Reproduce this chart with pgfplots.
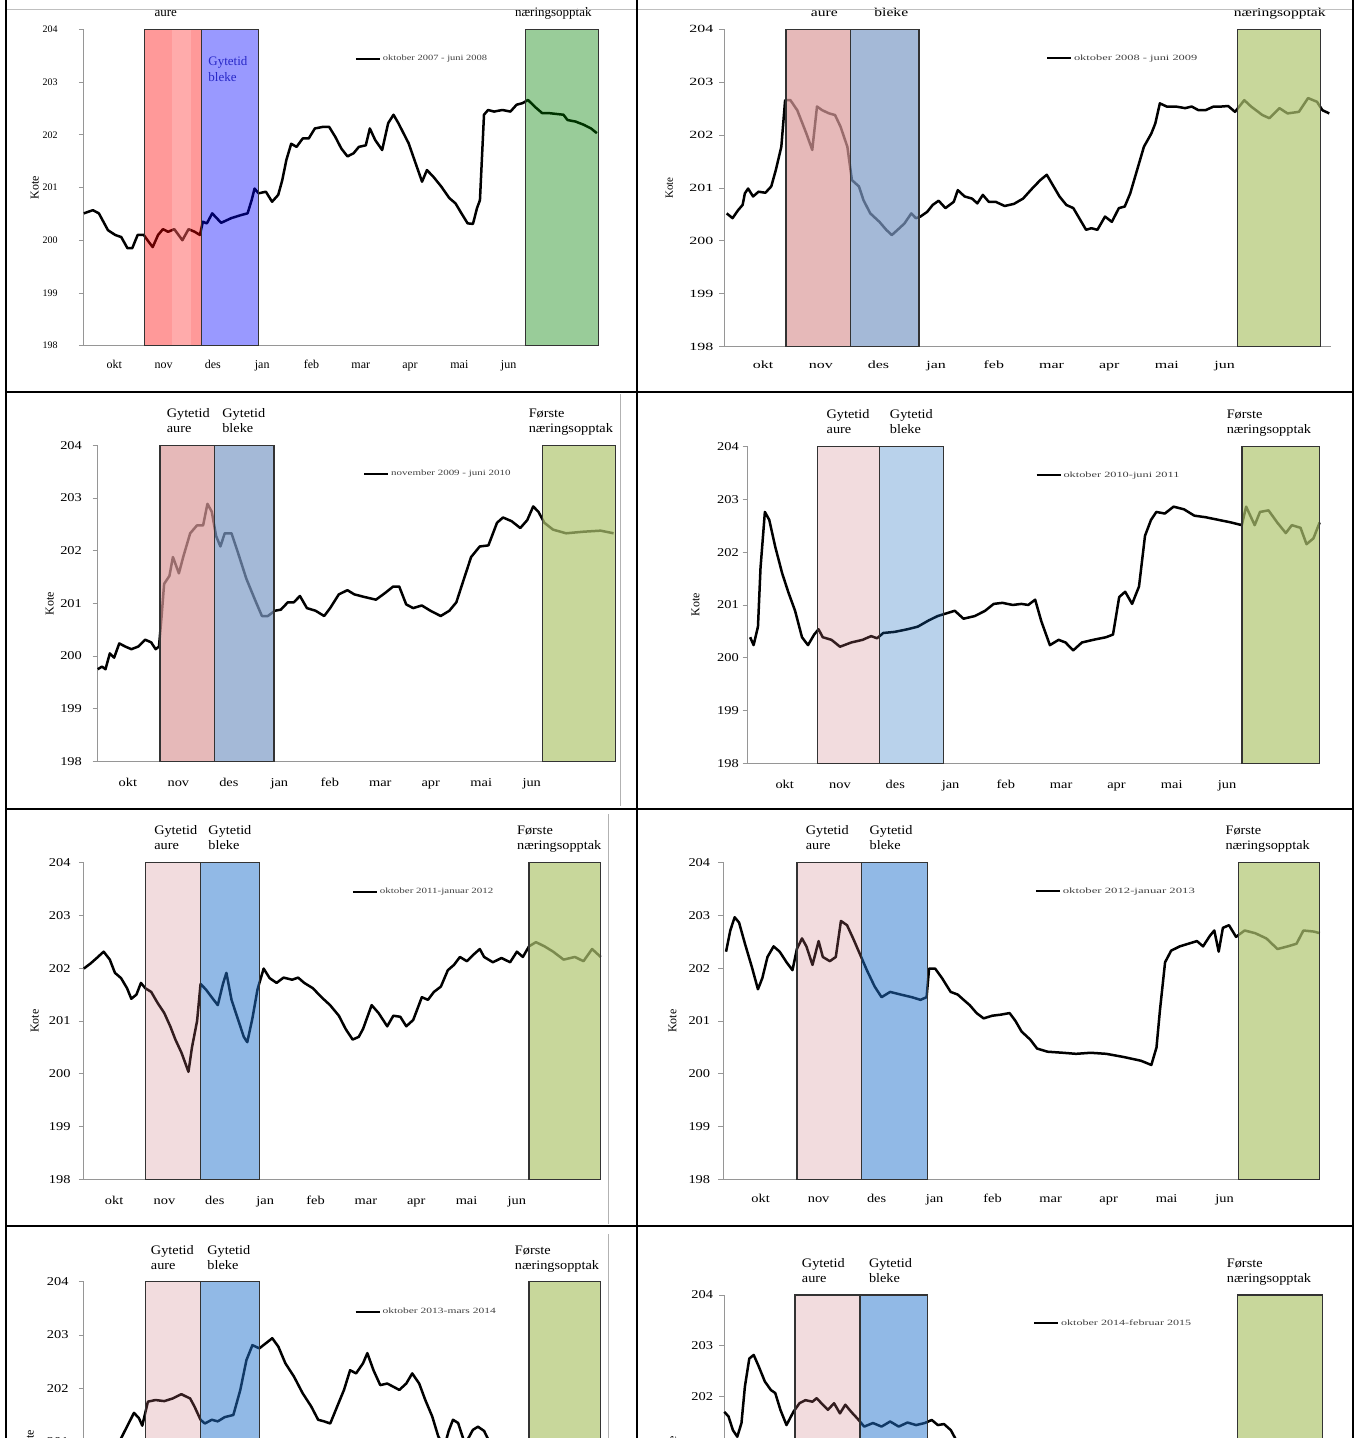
\documentclass[border=0pt]{standalone}
\usepackage{fontspec}
\setmainfont{Liberation Serif}
\usepackage{graphicx}
\usepackage{pgfplots}
\pgfplotsset{compat=1.18}

\definecolor{frame}{RGB}{150,150,150}
\definecolor{bleketxt}{RGB}{40,40,200}
\definecolor{gOne}{RGB}{0,128,0}
\definecolor{pinkA}{RGB}{219,155,155}
\definecolor{blueA}{RGB}{126,155,198}
\definecolor{greenA}{RGB}{176,198,112}
\definecolor{pinkL}{RGB}{204,116,124}
\definecolor{blueL}{RGB}{22,105,188}
\definecolor{blueM}{RGB}{35,115,205}

\pgfplotsset{
  panel/.style={
    scale only axis, anchor=south west, clip=false,
    ymin=198, ymax=204, ytick={198,199,200,201,202,203,204},
    axis x line*=bottom, axis y line*=left,
    axis line style={draw=frame, line width=0.9pt, -},
    xtick={15,45.4,75.8,106.2,136.6,167,197.4,227.8,258.2},
    xticklabels={okt,nov,des,jan,feb,mar,apr,mai,jun},
    xtick style={draw=none},
    ytick style={draw=frame, line width=0.9pt},
    tick align=outside, major tick length=5pt,
    /pgf/number format/assume math mode=true,
    ylabel={Kote},
    legend cell align=left,
    legend image code/.code={\draw[black, line width=2pt] (0pt,0pt) -- (24pt,0pt);},
  },
  tfont/.style n args={6}{
    yticklabel style={font=\fontsize{#1}{#1}\selectfont, xscale=#2, anchor=east, inner sep=0pt, xshift=-#3pt},
    xticklabel style={font=\fontsize{#6}{#6}\selectfont, xscale=#2, anchor=base, inner sep=0pt, yshift=-#5pt},
    every axis y label/.style={at={(axis description cs:0,0.5)}, rotate=90, anchor=center, font=\fontsize{#6}{#6}\selectfont, yshift=#4pt},
  },
  leg/.style 2 args={legend style={at={(axis cs:#1,#2)}, anchor=west, draw=none, fill=none, inner sep=0pt, font=\fontsize{8}{9}\selectfont, text=black!75}},
  dline/.style={black, line width=2.5pt, line join=round},
}
\tikzset{tl/.style 2 args={font=\fontsize{#1}{15}\selectfont, xscale=#2, align=left, anchor=south west, inner sep=0pt, yshift=8pt}}

\newcommand{\band}[4]{\addplot[forget plot, fill=#3, fill opacity=#4, draw=black!80, line width=1.3pt] coordinates {(#1,198) (#1,204) (#2,204) (#2,198)} -- cycle;}

\begin{document}
\begin{tikzpicture}
\useasboundingbox (0pt,0pt) rectangle (1355pt,-1438pt);
\clip (0pt,0pt) rectangle (1355pt,-1438pt);

% ---------- Panel 1 ----------
\begin{axis}[panel, tfont={10}{1.0}{21}{49}{17.3}{12},
  at={(83.8pt,-345.7pt)}, width=515pt, height=316.4pt,
  xmin=-3.8, xmax=313.8, leg={163.3}{203.44}]
\addplot[dline] coordinates {(-3.8,200.51) (1.8,200.57) (5.5,200.51) (11.1,200.19) (15.6,200.10) (19.3,200.06) (23.1,199.85) (26.1,199.85) (29.4,200.10) (33.2,200.10) (36.2,199.97) (38.7,199.87) (42.0,200.10) (45.0,200.21) (48.2,200.16) (52.0,200.21) (57.0,200.00) (60.8,200.21) (64.6,200.16) (67.8,200.10) (69.6,200.35) (72.1,200.32) (75.4,200.51) (80.9,200.33) (87.2,200.42) (93.5,200.48) (97.2,200.51) (99.7,200.76) (101.5,200.98) (104.0,200.89) (108.5,200.92) (112.3,200.73) (116.1,200.86) (118.6,201.14) (121.1,201.52) (124.1,201.83) (127.4,201.77) (131.2,201.93) (134.9,201.93) (138.7,202.12) (143.7,202.15) (147.5,202.15) (151.3,201.96) (155.0,201.74) (158.8,201.59) (162.6,201.65) (165.8,201.77) (170.1,201.80) (172.6,202.12) (175.9,201.90) (180.2,201.71) (183.9,202.22) (187.2,202.38) (190.2,202.22) (196.5,201.84) (201.5,201.40) (204.8,201.11) (207.8,201.33) (211.6,201.21) (216.6,201.02) (221.6,200.80) (225.4,200.70) (229.1,200.51) (232.9,200.32) (236.2,200.31) (238.7,200.61) (240.5,200.76) (243.0,202.38) (245.5,202.47) (249.2,202.44) (254.3,202.47) (259.3,202.44) (263.1,202.57) (266.8,202.60) (270.1,202.66) (274.4,202.53) (278.9,202.41) (283.2,202.41) (292.0,202.38) (294.5,202.28) (299.5,202.25) (304.5,202.19) (309.0,202.12) (312.6,202.03)};
\addlegendentry{\scalebox{1.31}[1]{oktober 2007 - juni 2008}}
\band{33.6}{68.6}{red}{0.4}
\addplot[forget plot, fill=white, fill opacity=0.18, draw=none] coordinates {(50.5,198.02) (50.5,203.98) (62.2,203.98) (62.2,198.02)} -- cycle;
\band{68.6}{104.0}{blue}{0.4}
\band{268.8}{313.8}{gOne}{0.4}
\node[tl={13}{1}, xshift=10pt] at (axis cs:33.6,204) {aure\strut};
\node[tl={13}{1}, xshift=-11pt] at (axis cs:268.8,204) {næringsopptak\strut};
\node[font=\fontsize{13}{16}\selectfont, text=bleketxt, align=left, anchor=north west, inner sep=0pt, xshift=7pt, yshift=-25pt] at (axis cs:68.6,204) {\strut Gytetid\\bleke};
\end{axis}

% ---------- Panel 2 ----------
\begin{axis}[panel, tfont={11}{1.45}{4}{55}{16.3}{11},
  at={(724.4pt,-346.7pt)}, width=606.4pt, height=317.4pt,
  xmin=-5.4, xmax=314.2, leg={164.0}{203.45}]
\addplot[dline] coordinates {(-4.2,200.52) (-1.1,200.43) (1.8,200.58) (4.2,200.68) (5.4,200.90) (7.1,200.99) (9.7,200.84) (12.6,200.93) (16.2,200.91) (19.3,201.03) (21.7,201.34) (24.6,201.78) (26.6,202.66) (29.4,202.66) (33.0,202.47) (37.8,202.03) (40.9,201.72) (43.4,202.54) (46.2,202.47) (49.8,202.41) (52.9,202.38) (55.8,202.16) (59.4,201.78) (61.8,201.15) (65.5,201.03) (67.9,200.77) (71.5,200.52) (76.3,200.36) (79.9,200.21) (82.8,200.11) (85.9,200.21) (89.5,200.33) (93.1,200.52) (95.5,200.43) (97.9,200.46) (101.5,200.55) (104.4,200.68) (107.5,200.76) (111.1,200.62) (115.5,200.74) (117.6,200.96) (121.2,200.84) (125.1,200.80) (127.9,200.71) (130.8,200.87) (133.9,200.74) (137.5,200.74) (142.3,200.66) (147.2,200.70) (152.0,200.80) (156.8,200.99) (161.1,201.15) (164.5,201.25) (167.6,201.06) (171.2,200.84) (174.8,200.68) (178.5,200.62) (182.1,200.40) (185.2,200.21) (188.0,200.24) (191.2,200.21) (195.2,200.46) (198.8,200.36) (202.5,200.62) (205.6,200.65) (208.5,200.90) (212.1,201.34) (215.7,201.78) (219.6,202.03) (221.7,202.22) (224.1,202.60) (227.7,202.54) (232.5,202.54) (237.4,202.51) (240.9,202.54) (244.5,202.47) (248.1,202.47) (252.4,202.54) (256.5,202.54) (260.1,202.55) (263.7,202.44) (268.6,202.66) (272.2,202.54) (278.1,202.38) (281.8,202.32) (287.1,202.51) (291.4,202.41) (297.4,202.44) (302.2,202.70) (306.9,202.63) (309.8,202.47) (313.4,202.41)};
\addlegendentry{\scalebox{1.55}[1]{oktober 2008 - juni 2009}}
\band{27.0}{61.2}{pinkA}{0.7}
\band{61.2}{97.2}{blueA}{0.7}
\band{265.0}{308.7}{greenA}{0.7}
\node[tl={12}{1.3}, xshift=19pt] at (axis cs:27.0,204) {aure\strut};
\node[tl={12}{1.3}, xshift=18pt] at (axis cs:61.2,204) {bleke\strut};
\node[tl={12}{1.3}, xshift=-3pt] at (axis cs:265.0,204) {næringsopptak\strut};
\end{axis}

% ---------- Panel 3 ----------
\begin{axis}[panel, tfont={12}{1.2}{8.8}{48}{20.5}{12},
  at={(97.7pt,-761.4pt)}, width=517.7pt, height=316.1pt,
  xmin=-3.2, xmax=308.6, leg={156.6}{203.46}]
\addplot[dline] coordinates {(-3.2,199.75) (-0.6,199.80) (1.5,199.75) (4.1,200.05) (6.7,199.97) (9.8,200.24) (13.4,200.18) (17.1,200.13) (21.2,200.18) (25.4,200.31) (29.0,200.26) (31.7,200.13) (33.7,200.18) (35.3,200.76) (36.8,201.37) (40.0,201.52) (42.1,201.88) (45.7,201.57) (48.3,201.88) (52.5,202.33) (56.6,202.48) (60.3,202.48) (62.9,202.89) (65.5,202.74) (68.1,202.28) (70.7,202.08) (73.3,202.33) (77.4,202.33) (81.1,201.98) (86.3,201.47) (91.5,201.07) (95.7,200.76) (99.3,200.76) (103.5,200.86) (107.1,200.88) (111.3,201.02) (114.9,201.02) (118.6,201.14) (122.8,200.91) (128.0,200.86) (133.2,200.76) (136.8,200.91) (142.0,201.17) (147.2,201.25) (151.4,201.17) (157.6,201.12) (164.4,201.07) (169.6,201.19) (174.8,201.32) (178.4,201.32) (182.6,200.98) (186.8,200.91) (192.0,200.96) (197.2,200.86) (203.4,200.76) (208.6,200.86) (212.8,201.02) (216.4,201.37) (221.7,201.88) (226.9,202.08) (232.1,202.10) (237.3,202.53) (240.9,202.63) (246.1,202.56) (251.3,202.43) (255.5,202.58) (259.1,202.84) (262.2,202.74) (265.8,202.53) (271.0,202.40) (278.9,202.33) (289.3,202.36) (299.7,202.38) (307.5,202.33)};
\addlegendentry{\scalebox{1.37}[1]{november 2009 - juni 2010}}
\band{34.3}{67.1}{pinkA}{0.7}
\band{67.1}{103.0}{blueA}{0.7}
\band{264.9}{308.6}{greenA}{0.7}
\node[tl={13}{1.1}, xshift=6pt] at (axis cs:34.3,204) {Gytetid\\aure\strut};
\node[tl={13}{1.1}, xshift=7pt] at (axis cs:67.1,204) {Gytetid\\bleke\strut};
\node[tl={13}{1.1}, xshift=-13pt] at (axis cs:264.9,204) {Første\\næringsopptak\strut};
\end{axis}

% ---------- Panel 4 ----------
\begin{axis}[panel, tfont={12}{1.2}{3}{52}{20}{12},
  at={(747.6pt,-763.5pt)}, width=572.2pt, height=317.1pt,
  xmin=-5.4, xmax=309.2, leg={152.8}{203.45}]
\addplot[dline] coordinates {(-4.0,200.39) (-2.1,200.24) (0.3,200.59) (1.7,201.70) (4.1,202.76) (6.5,202.61) (9.8,202.10) (13.6,201.60) (16.9,201.25) (20.7,200.89) (24.5,200.39) (27.8,200.24) (31.2,200.44) (33.6,200.54) (35.9,200.39) (40.7,200.34) (45.4,200.21) (51.6,200.29) (57.8,200.34) (62.5,200.41) (65.8,200.37) (69.2,200.47) (75.3,200.49) (82.5,200.54) (88.2,200.59) (94.3,200.71) (99.1,200.79) (103.8,200.84) (108.5,200.89) (113.3,200.74) (119.5,200.79) (125.2,200.89) (129.9,201.02) (134.7,201.04) (140.4,201.00) (145.1,201.02) (148.9,201.00) (152.7,201.10) (156.1,200.69) (160.8,200.24) (165.6,200.34) (169.4,200.29) (173.6,200.14) (178.4,200.29) (184.6,200.34) (191.7,200.39) (195.5,200.44) (198.9,201.15) (202.2,201.25) (206.0,201.02) (209.8,201.35) (213.1,202.31) (216.4,202.61) (219.3,202.76) (224.0,202.73) (228.8,202.86) (234.5,202.81) (240.2,202.69) (246.4,202.66) (253.5,202.61) (260.6,202.56) (266.3,202.51) (268.7,202.86) (273.4,202.51) (276.3,202.76) (281.0,202.79) (285.8,202.56) (290.5,202.36) (293.8,202.51) (298.6,202.46) (301.9,202.15) (305.7,202.26) (309.1,202.56)};
\addlegendentry{\scalebox{1.54}[1]{oktober 2010-juni 2011}}
\band{33.1}{67.3}{pinkL}{0.25}
\band{67.3}{102.4}{blueL}{0.3}
\band{266.4}{309.2}{greenA}{0.7}
\node[tl={13}{1.1}, xshift=8pt] at (axis cs:33.1,204) {Gytetid\\aure\strut};
\node[tl={13}{1.1}, xshift=9pt] at (axis cs:67.3,204) {Gytetid\\bleke\strut};
\node[tl={13}{1.1}, xshift=-14pt] at (axis cs:266.4,204) {Første\\næringsopptak\strut};
\end{axis}

% ---------- Panel 5 ----------
\begin{axis}[panel, tfont={12}{1.2}{6.7}{49}{19.5}{12},
  at={(83.8pt,-1179.8pt)}, width=516.9pt, height=317.6pt,
  xmin=-3.3, xmax=308.8, leg={158.5}{203.44}]
\addplot[dline] coordinates {(-3.3,201.99) (0.9,202.09) (4.5,202.19) (8.7,202.31) (12.4,202.16) (15.5,201.91) (19.2,201.81) (22.8,201.62) (25.4,201.42) (28.5,201.50) (31.2,201.72) (33.8,201.62) (37.4,201.55) (41.1,201.35) (45.3,201.15) (48.9,200.90) (52.0,200.65) (55.7,200.40) (59.9,200.04) (62.0,200.50) (65.1,201.00) (67.2,201.70) (70.3,201.60) (73.9,201.45) (77.6,201.30) (80.7,201.70) (82.8,201.91) (85.9,201.40) (89.6,201.05) (93.3,200.70) (95.4,200.60) (98.5,201.05) (101.6,201.60) (105.3,201.99) (108.9,201.81) (113.1,201.72) (117.3,201.82) (122.5,201.78) (126.1,201.82) (129.8,201.72) (135.0,201.62) (140.2,201.45) (145.4,201.30) (150.7,201.10) (154.8,200.85) (159.0,200.65) (162.7,200.70) (165.3,200.85) (170.5,201.30) (174.7,201.15) (179.9,200.90) (183.6,201.10) (187.8,201.08) (191.4,200.90) (195.6,201.02) (200.8,201.45) (204.5,201.40) (208.1,201.55) (212.3,201.65) (216.5,201.96) (220.2,202.06) (223.8,202.21) (228.0,202.13) (232.2,202.26) (235.8,202.36) (238.4,202.21) (243.7,202.11) (248.9,202.19) (254.1,202.11) (258.2,202.31) (261.8,202.21) (265.5,202.41) (269.7,202.49) (274.9,202.41) (280.1,202.31) (286.4,202.16) (293.2,202.21) (298.4,202.13) (303.6,202.36) (308.8,202.21)};
\addlegendentry{\scalebox{1.37}[1]{oktober 2011-januar 2012}}
\band{33.8}{67.2}{pinkL}{0.25}
\band{67.2}{102.7}{blueM}{0.5}
\band{265.5}{308.8}{greenA}{0.7}
\node[tl={13}{1.1}, xshift=8pt] at (axis cs:33.8,204) {Gytetid\\aure\strut};
\node[tl={13}{1.1}, xshift=7pt] at (axis cs:67.2,204) {Gytetid\\bleke\strut};
\node[tl={13}{1.1}, xshift=-11pt] at (axis cs:265.5,204) {Første\\næringsopptak\strut};
\end{axis}

% ---------- Panel 6 ----------
\begin{axis}[panel, tfont={12}{1.2}{6.7}{51}{18}{12},
  at={(723.4pt,-1179.8pt)}, width=596.4pt, height=317.6pt,
  xmin=-4.5, xmax=308.1, leg={158.6}{203.45}]
\addplot[dline] coordinates {(-3.1,202.31) (-0.9,202.71) (1.4,202.96) (3.7,202.86) (6.8,202.46) (10.5,202.01) (13.6,201.60) (15.9,201.81) (18.6,202.21) (21.8,202.41) (25.0,202.31) (28.6,202.11) (31.7,201.96) (34.0,202.36) (36.7,202.56) (39.0,202.41) (42.2,202.06) (45.4,202.51) (47.6,202.21) (51.3,202.13) (54.4,202.21) (57.1,202.89) (60.3,202.81) (63.5,202.56) (67.1,202.26) (70.7,201.96) (74.8,201.65) (78.4,201.45) (82.9,201.55) (88.4,201.50) (94.3,201.45) (98.8,201.40) (102.0,201.45) (103.3,201.99) (106.5,201.99) (110.1,201.81) (114.6,201.55) (118.3,201.50) (121.4,201.40) (124.6,201.30) (128.2,201.15) (131.9,201.05) (136.4,201.10) (140.9,201.12) (145.5,201.15) (148.6,201.00) (151.8,200.80) (156.3,200.65) (159.9,200.48) (165.4,200.42) (173.5,200.40) (180.3,200.38) (188.0,200.40) (196.2,200.38) (205.3,200.32) (214.3,200.25) (219.8,200.17) (222.5,200.50) (224.3,201.20) (227.0,202.11) (230.2,202.33) (234.7,202.41) (239.2,202.46) (243.7,202.51) (246.9,202.41) (250.5,202.61) (252.8,202.71) (255.1,202.31) (257.3,202.76) (260.5,202.81) (264.2,202.59) (268.7,202.71) (274.2,202.66) (280.1,202.56) (285.9,202.36) (291.3,202.41) (295.9,202.46) (299.5,202.71) (304.9,202.69) (308.1,202.66)};
\addlegendentry{\scalebox{1.59}[1]{oktober 2012-januar 2013}}
\band{34.0}{68.0}{pinkL}{0.25}
\band{68.0}{102.4}{blueM}{0.5}
\band{265.5}{308.1}{greenA}{0.7}
\node[tl={13}{1.1}, xshift=8pt] at (axis cs:34.0,204) {Gytetid\\aure\strut};
\node[tl={13}{1.1}, xshift=7pt] at (axis cs:68.0,204) {Gytetid\\bleke\strut};
\node[tl={13}{1.1}, xshift=-12pt] at (axis cs:265.5,204) {Første\\næringsopptak\strut};
\end{axis}

% ---------- Panel 7 (cut off at the bottom) ----------
\begin{axis}[panel, tfont={12}{1.2}{8.3}{54}{19}{12},
  at={(83.8pt,-1601.5pt)}, width=516.9pt, height=319.8pt,
  xmin=-3.3, xmax=308.8, leg={160.1}{203.44},
  xticklabels={}, yticklabels={,,,201,202,203,204}]
\addplot[dline] coordinates {(-3.3,200.5) (8,200.7) (15,200.9) (19,201.05) (27,201.54) (30,201.44) (32,201.3) (35.4,201.75) (40.0,201.78) (45.3,201.76) (50.4,201.81) (55.6,201.89) (58.2,201.85) (60.9,201.81) (63.5,201.66) (67.2,201.41) (69.8,201.34) (74.0,201.41) (77.6,201.38) (81.8,201.46) (87.0,201.50) (91.2,201.97) (94.9,202.53) (98.5,202.81) (102.7,202.75) (106.4,202.84) (110.5,202.94) (114.2,202.78) (118.4,202.47) (123.6,202.22) (128.8,201.91) (134.0,201.66) (138.2,201.41) (141.8,201.38) (145.5,201.34) (149.7,201.66) (153.8,201.97) (157.5,202.34) (161.1,202.28) (165.3,202.47) (167.9,202.66) (171.6,202.34) (175.7,202.06) (179.9,202.09) (183.6,202.03) (187.2,201.97) (191.4,202.09) (195.0,202.28) (199.2,202.09) (202.9,201.78) (207.1,201.47) (210.7,201.10) (214.4,200.9) (217.0,201.2) (219.6,201.41) (222.7,201.35) (226.9,200.95) (231.6,201.22) (234.7,201.28) (238.4,201.2) (241.5,201.0) (248,200.7)};
\addlegendentry{\scalebox{1.44}[1]{oktober 2013-mars 2014}}
\band{33.8}{67.2}{pinkL}{0.25}
\band{67.2}{102.7}{blueM}{0.5}
\band{265.5}{308.8}{greenA}{0.7}
\node[tl={13}{1.1}, xshift=5pt] at (axis cs:33.8,204) {Gytetid\\aure\strut};
\node[tl={13}{1.1}, xshift=6pt] at (axis cs:67.2,204) {Gytetid\\bleke\strut};
\node[tl={13}{1.1}, xshift=-13pt] at (axis cs:265.5,204) {Første\\næringsopptak\strut};
\end{axis}

% ---------- Panel 8 (cut off at the bottom) ----------
\begin{axis}[panel, tfont={12}{1.2}{5}{52}{18}{12},
  at={(724.3pt,-1599.8pt)}, width=598.1pt, height=304.8pt,
  xmin=-4.0, xmax=309.4, leg={157.7}{203.44},
  xticklabels={}, yticklabels={,,,,202,203,204}]
\addplot[dline] coordinates {(-4.0,201.70) (-1.8,201.61) (0.5,201.34) (2.8,201.21) (5.0,201.48) (6.8,202.20) (9.1,202.75) (11.4,202.82) (14.1,202.59) (17.2,202.30) (20.4,202.13) (22.7,202.07) (25.4,201.74) (28.6,201.44) (32.2,201.70) (35.4,201.87) (38.5,201.93) (42.2,201.90) (44.4,201.97) (47.6,201.84) (50.3,201.74) (53.5,201.87) (56.6,201.67) (59.4,201.84) (62.5,201.70) (65.7,201.57) (69.3,201.41) (73.9,201.48) (78.4,201.41) (82.9,201.51) (87.4,201.41) (92.0,201.49) (96.5,201.44) (101.0,201.48) (104.7,201.54) (107.9,201.44) (111.1,201.46) (114.7,201.34) (117.0,201.18) (122,200.8) (130,200.6) (140,200.5)};
\addlegendentry{\scalebox{1.51}[1]{oktober 2014-februar 2015}}
\band{33.1}{67.1}{pinkL}{0.25}
\band{67.1}{102.4}{blueM}{0.5}
\band{265.0}{309.4}{greenA}{0.7}
\node[tl={13}{1.1}, xshift=6pt] at (axis cs:33.1,204) {Gytetid\\aure\strut};
\node[tl={13}{1.1}, xshift=8pt] at (axis cs:67.1,204) {Gytetid\\bleke\strut};
\node[tl={13}{1.1}, xshift=-10pt] at (axis cs:265.0,204) {Første\\næringsopptak\strut};
\end{axis}

% ---------- table frame ----------
\draw[black!25, line width=0.8pt] (6pt,-9pt) -- (1353pt,-9pt);
\draw[black!30, line width=1pt] (620pt,-394pt) -- (620pt,-806pt);
\draw[black!30, line width=1pt] (608pt,-814pt) -- (608pt,-1224pt);
\draw[black!30, line width=1pt] (608pt,-1234pt) -- (608pt,-1438pt);
\draw[black, line width=1.8pt] (6pt,0pt) -- (6pt,-1438pt);
\draw[black, line width=1.8pt] (637pt,0pt) -- (637pt,-1438pt);
\draw[black, line width=1.8pt] (1353pt,0pt) -- (1353pt,-1438pt);
\draw[black, line width=1.8pt] (6pt,-392pt) -- (1353pt,-392pt);
\draw[black, line width=1.8pt] (6pt,-809pt) -- (1353pt,-809pt);
\draw[black, line width=1.8pt] (6pt,-1226pt) -- (1353pt,-1226pt);
\end{tikzpicture}
\end{document}
